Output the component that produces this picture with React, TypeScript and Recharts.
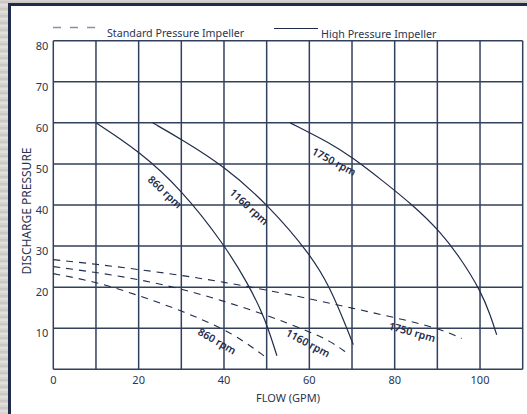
import React from "react";
import { LineChart, Line, XAxis, YAxis, CartesianGrid, ReferenceDot } from "recharts";

// flow (GPM) grid every 10, labels every 20
const FLOW_TICKS = [0, 10, 20, 30, 40, 50, 60, 70, 80, 90, 100, 110];
const PRESSURE_TICKS = [0, 10, 20, 30, 40, 50, 60, 70, 80];

// High pressure impeller (solid) — [flow, pressure]
const high860: [number, number][] = [
  [10, 60], [20, 53.2], [30, 43.8], [40, 30.5], [45.8, 20.5], [48.6, 14.5], [50.4, 9.8], [52.4, 3.3],
];
const high1160: [number, number][] = [
  [23.3, 60], [30, 56], [40, 49.5], [50.4, 40], [60.4, 27.8], [64.8, 20], [68.6, 10.5], [70.3, 6],
];
const high1750: [number, number][] = [
  [55.5, 60], [65, 55], [70, 51.6], [76.6, 46.4], [84.8, 39.5], [90.4, 33.8], [95.5, 27], [100.2, 19], [102.5, 13], [103.9, 8.4],
];

// Standard pressure impeller (dashed)
const std860: [number, number][] = [
  [0, 23.3], [10, 21.3], [20, 18], [30, 14.3], [40, 9.8], [45, 6.6], [49.6, 3.1],
];
const std1160: [number, number][] = [
  [0, 25], [10, 23.6], [20, 21.9], [30, 19.6], [40, 16.6], [50, 13.2], [60, 9.2], [65, 6.8], [68.8, 4],
];
const std1750: [number, number][] = [
  [0, 26.7], [10, 25.6], [20, 24.3], [30, 22.9], [40, 21.2], [50, 19.3], [60, 17.2], [70, 14.9], [80, 12.6], [90, 10.1], [95.7, 7.5],
];

const toPoints = (arr: [number, number][]) => arr.map(([flow, pressure]) => ({ flow, pressure }));

const NAVY = "#1f2c4a";
const GRID = "#33405c";
const TEXT = "#2a3550";
const FONT = "'Noto Sans', sans-serif";

const rpmLabels = [
  { text: "860 rpm", flow: 26.2, pressure: 43.2, angle: 43 },
  { text: "1160 rpm", flow: 45.9, pressure: 39.6, angle: 42 },
  { text: "1750 rpm", flow: 65.8, pressure: 50.6, angle: 28 },
  { text: "860 rpm", flow: 38.4, pressure: 6.9, angle: 30 },
  { text: "1160 rpm", flow: 59.7, pressure: 6.4, angle: 28 },
  { text: "1750 rpm", flow: 84.1, pressure: 9.1, angle: 16 },
];

const series = [
  { key: "h860", data: high860, dashed: false },
  { key: "h1160", data: high1160, dashed: false },
  { key: "h1750", data: high1750, dashed: false },
  { key: "s860", data: std860, dashed: true },
  { key: "s1160", data: std1160, dashed: true },
  { key: "s1750", data: std1750, dashed: true },
];

const FlowTick = (props: any) => {
  const { x, y, payload } = props;
  const v = payload.value;
  if (v % 20 !== 0 || v > 100) return <g />;
  return (
    <text x={x} y={y + 15} textAnchor="middle" fill={TEXT} fontSize={11} fontFamily={FONT}>
      {v}
    </text>
  );
};

const PressureTick = (props: any) => {
  const { x, y, payload } = props;
  if (payload.value === 0) return <g />;
  return (
    <text x={x - 5} y={y + 9} textAnchor="end" fill={TEXT} fontSize={11} fontFamily={FONT}>
      {payload.value}
    </text>
  );
};

export default function App() {
  return (
    <div
      style={{
        position: "absolute",
        left: 0,
        top: 0,
        width: 527,
        height: 414,
        overflow: "hidden",
        background: "repeating-linear-gradient(180deg, #dcdad6 0px, #c6c3be 2px, #e6e4e0 5px, #d2cfca 7px)",
      }}
    >
      <div
        style={{
          position: "absolute",
          left: 8,
          top: 3,
          width: 540,
          height: 430,
          background: "#fff",
          borderLeft: `3px solid ${NAVY}`,
          borderTop: `3px solid ${NAVY}`,
        }}
      />
      {/* legend */}
      <svg style={{ position: "absolute", left: 0, top: 0 }} width={527} height={40}>
        <line x1={53} y1={27.5} x2={96} y2={27.5} stroke="#8791a2" strokeWidth={1.6} strokeDasharray="8 9" />
        <text x={107} y={37} fill={TEXT} fontSize={10.7} fontFamily={FONT}>
          Standard Pressure Impeller
        </text>
        <line x1={274} y1={28.5} x2={318} y2={28.5} stroke={NAVY} strokeWidth={1.2} />
        <text x={321} y={37.5} fill={TEXT} fontSize={10.7} fontFamily={FONT}>
          High Pressure Impeller
        </text>
      </svg>
      <div style={{ position: "absolute", left: 0, top: 0 }}>
        <LineChart width={527} height={414} margin={{ top: 40.7, right: 4.3, left: 8.3, bottom: 14.7 }}>
          <CartesianGrid stroke={GRID} strokeWidth={1.5} />
          <XAxis
            type="number"
            dataKey="flow"
            domain={[0, 110]}
            ticks={FLOW_TICKS}
            interval={0}
            height={30}
            axisLine={false}
            tickLine={false}
            tickSize={0}
            tickMargin={0}
            tick={<FlowTick />}
            label={{
              value: "FLOW (GPM)",
              position: "insideBottom",
              offset: 0,
              dy: 3,
              fill: TEXT,
              fontSize: 11,
              fontFamily: FONT,
            }}
          />
          <YAxis
            type="number"
            dataKey="pressure"
            domain={[0, 80]}
            ticks={PRESSURE_TICKS}
            interval={0}
            width={45}
            axisLine={false}
            tickLine={false}
            tickSize={0}
            tickMargin={0}
            tick={<PressureTick />}
            label={{
              value: "DISCHARGE PRESSURE",
              angle: -90,
              position: "insideLeft",
              offset: 0,
              dx: 18,
              dy: 6,
              style: { textAnchor: "middle" },
              fill: TEXT,
              fontSize: 12,
              fontFamily: FONT,
            }}
          />
          {series.map((s) => (
            <Line
              key={s.key}
              data={toPoints(s.data)}
              dataKey="pressure"
              type="basis"
              stroke={NAVY}
              strokeWidth={s.dashed ? 1.1 : 1.2}
              strokeDasharray={s.dashed ? "7 6" : undefined}
              dot={false}
              activeDot={false}
              isAnimationActive={false}
            />
          ))}
          {rpmLabels.map((l, i) => (
            <ReferenceDot
              key={i}
              x={l.flow}
              y={l.pressure}
              r={0}
              shape={(p: any) => (
                <text
                  x={p.cx}
                  y={p.cy}
                  transform={`rotate(${l.angle} ${p.cx} ${p.cy})`}
                  textAnchor="middle"
                  dominantBaseline="central"
                  fill={NAVY}
                  fontSize={10.5}
                  fontWeight={600}
                  fontFamily={FONT}
                >
                  {l.text}
                </text>
              )}
            />
          ))}
        </LineChart>
      </div>
    </div>
  );
}
